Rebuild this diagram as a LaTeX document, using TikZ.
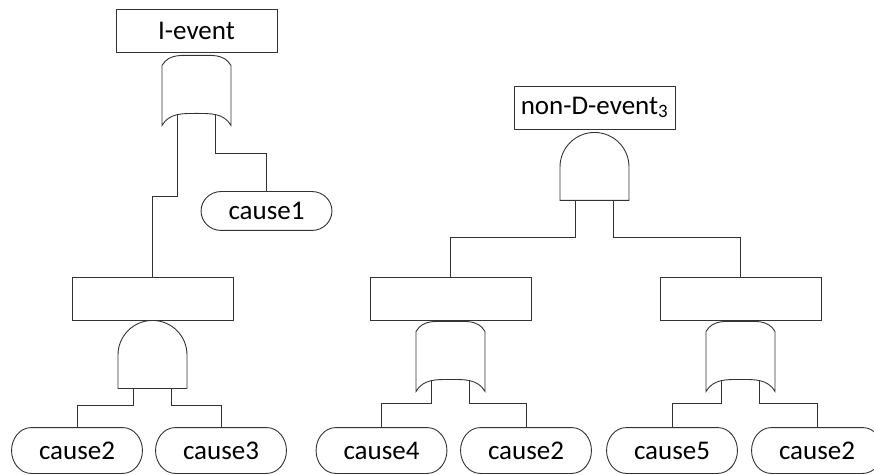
\documentclass[tikz,border=0pt]{standalone}
\usepackage{fontspec}
\setmainfont{Carlito}
\usetikzlibrary{positioning}

% gate and pill outlines drawn round an empty node
\newcommand{\orgate}[1]{%
  \draw[black!80] ([yshift=-10pt]#1.north west) to[out=60,in=180] (#1.north)
    to[out=0,in=120] ([yshift=-10pt]#1.north east) -- (#1.south east)
    to[out=120,in=0] ([yshift=12pt]#1.south) to[out=180,in=60] (#1.south west) -- cycle;}
\newcommand{\andgate}[1]{%
  \draw[black!80] (#1.south west) -- (#1.south east) -- ([yshift=-34.5pt]#1.north east)
    arc[start angle=0,end angle=180,radius=34.5pt] -- cycle;}
\newcommand{\pill}[1]{%
  \draw[black!80] ([xshift=20pt]#1.north west) -- ([xshift=-20pt]#1.north east)
    to[out=0,in=90] (#1.east) to[out=270,in=0] ([xshift=-20pt]#1.south east)
    -- ([xshift=20pt]#1.south west) to[out=180,in=270] (#1.west)
    to[out=90,in=180] cycle;}

\begin{document}
\begin{tikzpicture}[x=1pt,y=1pt,line width=0.9pt,
    every node/.style={font=\fontsize{27}{32}\selectfont},
    event/.style={draw=black!80, minimum width=161pt, minimum height=43pt, inner sep=0pt},
    cause/.style={minimum width=130pt, minimum height=45pt, inner sep=0pt},
    gate/.style={minimum width=69pt, minimum height=70pt, inner sep=0pt, outer sep=0pt},
    wire/.style={draw=black!80}]
    \useasboundingbox (0,0) rectangle (874,474);

    % left tree
    \node[event] (ievent) at (196.5,443.5) {I-event};
    \node[gate, below=3pt of ievent] (or1) {};
    \orgate{or1}
    \node[cause, minimum height=38pt] (cause1) at (266.5,263) {cause1};
    \node[event] (midA) at (152.5,175.5) {};
    \node[gate, minimum height=68pt, below=0pt of midA] (and1) {};
    \andgate{and1}
    \node[cause] (cause2a) at (77,23.5) {cause2};
    \node[cause] (cause3) at (221,23.5) {cause3};

    \draw[wire] ([xshift=-19pt,yshift=10pt]or1.south) |- ([yshift=80pt]midA.north) -- (midA.north);
    \draw[wire] ([xshift=19pt,yshift=10pt]or1.south) |- ([yshift=38pt]cause1.north) -- (cause1.north);
    \draw[wire] ([xshift=-19pt]and1.south) |- ([yshift=22pt]cause2a.north) -- (cause2a.north);
    \draw[wire] ([xshift=19pt]and1.south) |- ([yshift=22pt]cause3.north) -- (cause3.north);

    % right tree
    \node[event] (ndevent) at (594.5,366.5) {non-D-event\textsubscript{3}};
    \node[gate, minimum height=68pt, below=3pt of ndevent] (and2) {};
    \andgate{and2}
    \node[event] (midB) at (450.5,175.5) {};
    \node[event] (midC) at (740.5,175.5) {};
    \node[gate, below=1pt of midB] (or2) {};
    \orgate{or2}
    \node[gate, below=1pt of midC] (or3) {};
    \orgate{or3}
    \node[cause] (cause4) at (381.5,23.5) {cause4};
    \node[cause] (cause2b) at (526,23.5) {cause2};
    \node[cause] (cause5) at (672,23.5) {cause5};
    \node[cause] (cause2c) at (817,23.5) {cause2};

    \draw[wire] ([xshift=-19pt]and2.south) |- ([yshift=39pt]midB.north) -- (midB.north);
    \draw[wire] ([xshift=19pt]and2.south) |- ([yshift=39pt]midC.north) -- (midC.north);
    \draw[wire] ([xshift=-19pt,yshift=10pt]or2.south) |- ([yshift=24pt]cause4.north) -- (cause4.north);
    \draw[wire] ([xshift=19pt,yshift=10pt]or2.south) |- ([yshift=24pt]cause2b.north) -- (cause2b.north);
    \draw[wire] ([xshift=-19pt,yshift=10pt]or3.south) |- ([yshift=24pt]cause5.north) -- (cause5.north);
    \draw[wire] ([xshift=19pt,yshift=10pt]or3.south) |- ([yshift=24pt]cause2c.north) -- (cause2c.north);

    % basic event outlines
    \foreach \c in {cause1,cause2a,cause3,cause4,cause2b,cause5,cause2c}
        \pill{\c};
\end{tikzpicture}
\end{document}
